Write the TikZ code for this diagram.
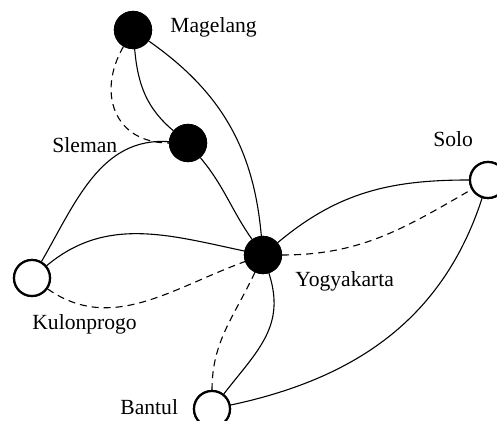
\documentclass[tikz,border=0pt]{standalone}
\usepackage{fontspec}
\setmainfont{Liberation Serif}
\begin{document}
\begin{tikzpicture}[x=0.5pt,y=0.5pt,
  city/.style={circle,draw=black,line width=1.1pt,minimum size=18pt,inner sep=0pt},
  hub/.style={city,fill=black},
  leaf/.style={city,fill=white},
  lbl/.style={anchor=base west,inner sep=0pt,font=\fontsize{10.8}{12}\selectfont},
  link/.style={line width=0.55pt},
  dlink/.style={line width=0.55pt,dash pattern=on 3.5pt off 2.5pt}]
\useasboundingbox (0,0) rectangle (497,421);
\node[hub] (M) at (133,391) {};
\node[hub] (S) at (188,278) {};
\node[hub] (Y) at (263,166) {};
\node[leaf] (So) at (488,241) {};
\node[leaf] (K) at (32,143) {};
\node[leaf] (B) at (212,12) {};
\draw[link] (M) to[out=-85,in=140] (S);
\draw[dlink] (M) to[out=-120,in=180,looseness=1.3] (S);
\draw[link] (M) to[out=-35,in=95] (Y);
\draw[link] (S) to[out=-50,in=125] (Y);
\draw[link] (S) to[out=176,in=60] (K);
\draw[link] (K) to[out=40,in=168] (Y);
\draw[dlink] (K) to[out=-35,in=200] (Y);
\draw[link] (Y) to[out=40,in=180] (So);
\draw[dlink] (Y) to[out=0,in=210] (So);
\draw[dlink] (Y) to[out=-115,in=90] (B);
\draw[link] (Y) to[out=-72,in=52,looseness=1.1] (B);
\draw[link] (B) to[out=12,in=-108] (So);
\node[hub] at (M) {};
\node[hub] at (S) {};
\node[hub] at (Y) {};
\node[leaf] at (So) {};
\node[leaf] at (K) {};
\node[leaf] at (B) {};
\node[lbl] (lM) at (170,388) {Magelang};
\node[lbl] (lS) at (52,268) {Sleman};
\node[lbl] (lSo) at (433,274) {Solo};
\node[lbl] (lY) at (295,134) {Yogyakarta};
\node[lbl] (lK) at (32,91) {Kulonprogo};
\node[lbl] (lB) at (120,6) {Bantul};
\end{tikzpicture}
\end{document}
